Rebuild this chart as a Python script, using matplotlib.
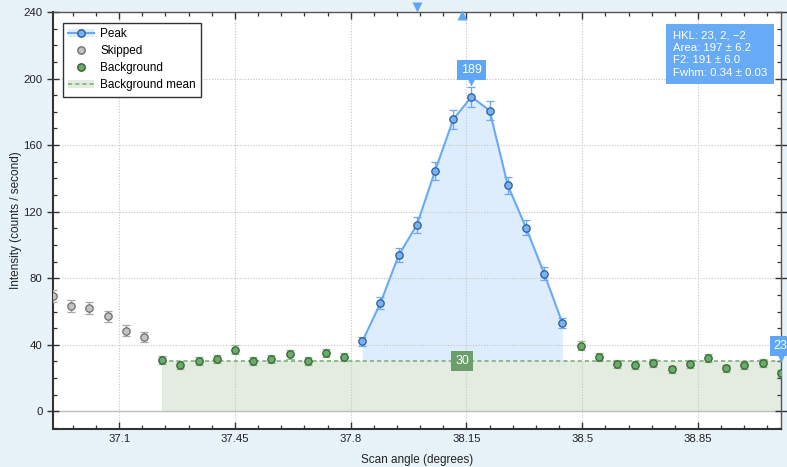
import numpy as np
import matplotlib
matplotlib.use("Agg")
import matplotlib.pyplot as plt
from matplotlib.lines import Line2D
from matplotlib.patches import Patch
from matplotlib.transforms import offset_copy, blended_transform_factory
from matplotlib.ticker import MultipleLocator

plt.rcParams['font.family'] = ['Liberation Sans', 'DejaVu Sans']

# ---- data ----
skip_x = [36.9, 36.955, 37.01, 37.065, 37.12, 37.175]
skip_y = [69.5, 63.5, 62.0, 57.3, 48.5, 44.7]
skip_e = [3.7, 3.5, 3.5, 3.3, 3.1, 2.9]

bg1_x = [37.23, 37.285, 37.34, 37.395, 37.45, 37.505, 37.56, 37.615, 37.67, 37.725, 37.78]
bg1_y = [30.7, 28.0, 30.4, 31.5, 37.0, 30.4, 31.5, 34.3, 30.4, 35.0, 32.5]
bg1_e = [2.4, 2.3, 2.4, 2.5, 2.7, 2.4, 2.5, 2.6, 2.4, 2.6, 2.5]

peak_x = [37.835, 37.89, 37.945, 38.0, 38.055, 38.11, 38.165, 38.22, 38.275, 38.33, 38.385, 38.44]
peak_y = [42.0, 65.1, 93.8, 112.0, 144.5, 175.4, 189.0, 180.8, 135.8, 110.4, 82.8, 53.1]
peak_e = [2.9, 3.5, 4.3, 4.7, 5.3, 5.8, 6.0, 5.9, 5.1, 4.6, 4.0, 3.2]

bg2_x = [38.495, 38.55, 38.605, 38.66, 38.715, 38.77, 38.825, 38.88, 38.935, 38.99, 39.045, 39.1]
bg2_y = [39.5, 32.7, 28.3, 27.9, 28.9, 25.2, 28.3, 31.9, 25.8, 27.9, 28.9, 22.8]
bg2_e = [2.8, 2.5, 2.3, 2.3, 2.4, 2.2, 2.3, 2.5, 2.2, 2.3, 2.4, 2.1]

info_lines = ["HKL: 23, 2, \u22122", "Area: 197 \u00b1 6.2", "F2: 191 \u00b1 6.0", "Fwhm: 0.34 \u00b1 0.03"]
expected_pos = 38.0
fitted_pos = 38.1375
x_major = [37.1, 37.45, 37.8, 38.15, 38.5, 38.85]
y_major = [0, 40, 80, 120, 160, 200, 240]

# ---- style ----
BLUE = '#6aaaf5'
BLUE_FACE = '#78b2f2'
BLUE_EDGE = '#2b5c95'
BLUE_FILL = '#deedfd'
GREEN = '#6aaa6a'
GREEN_EDGE = '#355f35'
GREEN_FILL = '#e4ece1'
GRAY_FACE = '#c2c2c2'
GRAY_EDGE = '#6e6e6e'
BOX_BLUE = '#5fa7f6'
BOX_GREEN = '#6b9e6b'
MS = 5.3

fig = plt.figure(figsize=(7.87, 4.67), dpi=100, facecolor='#e8f2f9')
ax = fig.add_axes([53/787, 38/467, (780.7-53)/787, (429-12)/467])
ax.set_facecolor('white')

bg_x = np.array(bg1_x + bg2_x)
bg_y = np.array(bg1_y + bg2_y)
bg_mean = bg_y.mean()

# fills
ax.fill_between([bg_x[0], bg_x[-1]], 0, bg_mean, color=GREEN_FILL, lw=0, zorder=1)
ax.fill_between(peak_x, bg_mean, peak_y, color=BLUE_FILL, lw=0, zorder=1)

# grid
ax.set_xticks(x_major)
ax.set_yticks(y_major)
ax.xaxis.set_minor_locator(MultipleLocator(0.07))
ax.yaxis.set_minor_locator(MultipleLocator(10))
ax.grid(True, which='major', color='#c4c4c4', linestyle=(0, (1, 1.5)), lw=0.8, zorder=0)
ax.axhline(0, color='#bdbdbd', lw=1.0, zorder=1)

# mean line
ax.plot([bg_x[0], bg_x[-1]], [bg_mean, bg_mean], color='#78b478', lw=1.2, ls=(0, (2.5, 1.8)), zorder=2)

# points
ax.errorbar(skip_x, skip_y, yerr=skip_e, fmt='o', ms=MS, mfc=GRAY_FACE, mec=GRAY_EDGE, mew=0.9,
            ecolor='#a8a8a8', elinewidth=1.0, capsize=3.2, capthick=1.0, zorder=4)
for xs, ys, es in [(bg1_x, bg1_y, bg1_e), (bg2_x, bg2_y, bg2_e)]:
    ax.errorbar(xs, ys, yerr=es, fmt='o', ms=MS, mfc=GREEN, mec=GREEN_EDGE, mew=0.9,
                ecolor='#8cbf8c', elinewidth=1.0, capsize=3.2, capthick=1.0, zorder=4)
ax.plot(peak_x, peak_y, color=BLUE, lw=1.5, zorder=3)
ax.errorbar(peak_x, peak_y, yerr=peak_e, fmt='o', ms=MS, mfc=BLUE_FACE, mec=BLUE_EDGE, mew=0.9,
            ecolor=BLUE, elinewidth=1.0, capsize=3.2, capthick=1.0, zorder=4)

ax.set_xlim(36.9, 39.1)
ax.set_ylim(-10.6, 240)

# value labels
def tag(x, y, text, color):
    ax.annotate(text, xy=(x, y), xytext=(0, 19.5), textcoords='offset points',
                ha='center', va='center', color='white', fontsize=9,
                bbox=dict(boxstyle='square,pad=0.32', fc=color, ec='none'),
                zorder=6, annotation_clip=False)
    tr = offset_copy(ax.transData, fig=fig, x=0, y=11.0, units='points')
    ax.plot([x], [y], marker='v', ms=6, color=color, mec='none', transform=tr,
            clip_on=False, zorder=6)

ipk = int(np.argmax(peak_y))
tag(peak_x[ipk], peak_y[ipk], f"{peak_y[ipk]:.0f}", BOX_BLUE)
tag(bg2_x[-1], bg2_y[-1], f"{bg2_y[-1]:.0f}", BOX_BLUE)

ax.text(np.mean([peak_x[0], peak_x[-1]]), bg_mean, f"{bg_mean:.0f}", ha='center', va='center',
        color='white', fontsize=9, zorder=6,
        bbox=dict(boxstyle='square,pad=0.33', fc=BOX_GREEN, ec='none'))

# position markers
bt = blended_transform_factory(ax.transData, ax.transAxes)
ax.plot([expected_pos], [1.013], marker='v', ms=6.5, color=BOX_BLUE, mec='none', transform=bt,
        clip_on=False, zorder=7)
ax.plot([fitted_pos], [0.992], marker='^', ms=6.5, color=BOX_BLUE, mec='none', transform=bt,
        clip_on=False, zorder=7)

# info box
ax.text(0.852, 0.956, "\n".join(info_lines), transform=ax.transAxes, ha='left', va='top',
        color='white', fontsize=8.2, linespacing=1.3, zorder=8,
        bbox=dict(boxstyle='square,pad=0.6', fc=BOX_BLUE, ec='none', alpha=0.95))

# ticks/spines
ax.tick_params(which='both', direction='in', top=True, right=True, colors='#333333',
               labelsize=8.2, labelcolor='#222222')
ax.tick_params(which='major', length=5, width=1.0)
ax.tick_params(which='minor', length=3, width=0.9)
ax.tick_params(axis='y', which='major', left=True, direction='inout', length=8)
ax.tick_params(axis='y', which='major', right=True)
for s in ['left', 'bottom']:
    ax.spines[s].set_color('#333333'); ax.spines[s].set_linewidth(1.5)
for s in ['top', 'right']:
    ax.spines[s].set_color('#555555'); ax.spines[s].set_linewidth(1.0)
ax.set_xticklabels([str(v) for v in x_major])

ax.set_xlabel("Scan angle (degrees)", fontsize=8.5, color='#222222', va='center')
ax.set_ylabel("Intensity (counts / second)", fontsize=8.5, color='#222222', va='center')
ax.xaxis.set_label_coords(0.5, -0.074)
ax.yaxis.set_label_coords(-0.0515, 0.5)

# legend
handles = [
    (Patch(fc=BLUE_FILL, ec='none'), Line2D([], [], color=BLUE, lw=1.5, marker='o', ms=MS,
                                           mfc=BLUE_FACE, mec=BLUE_EDGE)),
    Line2D([], [], ls='none', marker='o', ms=MS, mfc=GRAY_FACE, mec=GRAY_EDGE),
    Line2D([], [], ls='none', marker='o', ms=MS, mfc=GREEN, mec=GREEN_EDGE),
    (Patch(fc=GREEN_FILL, ec='none'), Line2D([], [], color='#78b478', lw=1.2, ls=(0, (2.5, 1.8)))),
]
leg = ax.legend(handles, ["Peak", "Skipped", "Background", "Background mean"],
                loc='upper left', bbox_to_anchor=(0.0137, 0.9736), borderaxespad=0,
                fancybox=False, edgecolor='#333333', framealpha=1, fontsize=8.5,
                handlelength=2.2, handletextpad=0.5, labelspacing=0.42, borderpad=0.45)
leg.get_frame().set_linewidth(1.0)
leg.set_zorder(9)

fig.savefig("out.png", dpi=100, facecolor=fig.get_facecolor())
